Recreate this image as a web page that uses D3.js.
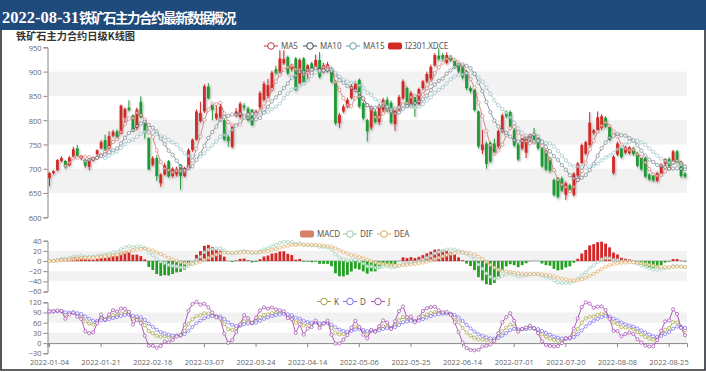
<!DOCTYPE html>
<html>
<head>
<meta charset="utf-8">
<script src="https://cdn.jsdelivr.net/npm/d3@7"></script>
<style>
  html, body { margin: 0; padding: 0; background: #fff; }
  svg { display: block; }
</style>
</head>
<body>
<svg id="chart" width="706" height="372" font-family="'Noto Sans', 'Noto Sans CJK SC', sans-serif"></svg>
<script>
// trading days, 2022-01-04 .. 2022-08-31
const dates = [
  "2022-01-04","2022-01-05","2022-01-06","2022-01-07","2022-01-10","2022-01-11","2022-01-12","2022-01-13","2022-01-14",
  "2022-01-17","2022-01-18","2022-01-19","2022-01-20","2022-01-21","2022-01-24","2022-01-25","2022-01-26","2022-01-27","2022-01-28",
  "2022-02-07","2022-02-08","2022-02-09","2022-02-10","2022-02-11","2022-02-14","2022-02-15","2022-02-16","2022-02-17","2022-02-18",
  "2022-02-21","2022-02-22","2022-02-23","2022-02-24","2022-02-25","2022-02-28","2022-03-01","2022-03-02","2022-03-03","2022-03-04",
  "2022-03-07","2022-03-08","2022-03-09","2022-03-10","2022-03-11","2022-03-14","2022-03-15","2022-03-16","2022-03-17","2022-03-18",
  "2022-03-21","2022-03-22","2022-03-23","2022-03-24","2022-03-25","2022-03-28","2022-03-29","2022-03-30","2022-03-31","2022-04-01",
  "2022-04-06","2022-04-07","2022-04-08","2022-04-11","2022-04-12","2022-04-13","2022-04-14","2022-04-15","2022-04-18","2022-04-19",
  "2022-04-20","2022-04-21","2022-04-22","2022-04-25","2022-04-26","2022-04-27","2022-04-28","2022-04-29","2022-05-05","2022-05-06",
  "2022-05-09","2022-05-10","2022-05-11","2022-05-12","2022-05-13","2022-05-16","2022-05-17","2022-05-18","2022-05-19","2022-05-20",
  "2022-05-23","2022-05-24","2022-05-25","2022-05-26","2022-05-27","2022-05-30","2022-05-31","2022-06-01","2022-06-02","2022-06-06",
  "2022-06-07","2022-06-08","2022-06-09","2022-06-10","2022-06-13","2022-06-14","2022-06-15","2022-06-16","2022-06-17","2022-06-20",
  "2022-06-21","2022-06-22","2022-06-23","2022-06-24","2022-06-27","2022-06-28","2022-06-29","2022-06-30","2022-07-01","2022-07-04",
  "2022-07-05","2022-07-06","2022-07-07","2022-07-08","2022-07-11","2022-07-12","2022-07-13","2022-07-14","2022-07-15","2022-07-18",
  "2022-07-19","2022-07-20","2022-07-21","2022-07-22","2022-07-25","2022-07-26","2022-07-27","2022-07-28","2022-07-29","2022-08-01",
  "2022-08-02","2022-08-03","2022-08-04","2022-08-05","2022-08-08","2022-08-09","2022-08-10","2022-08-11","2022-08-12","2022-08-15",
  "2022-08-16","2022-08-17","2022-08-18","2022-08-19","2022-08-22","2022-08-23","2022-08-24","2022-08-25","2022-08-26","2022-08-29",
  "2022-08-30","2022-08-31"
];

// daily OHLC
const open = [
  681,691,697,716,716,707,726,742,722,718, 704,718,730,742,759,742,768,777,773,805,
  826,810,784,838,793,763,708,722,670,688, 716,685,688,708,685,702,739,760,798,818,
  869,831,804,806,800,766,745,810,806,830, 824,822,812,826,842,850,865,905,900,917,
  930,905,927,876,927,900,917,910,924,900, 902,906,879,794,818,828,846,862,883,835,
  800,785,818,796,820,842,836,792,822,845, 866,830,848,833,866,880,886,913,933,934,
  918,930,922,915,912,900,866,862,818,738, 752,753,752,746,777,815,817,780,750,742,
  733,759,769,762,742,737,721,677,680,680, 646,666,646,686,712,731,749,774,780,784,
  805,786,691,729,742,733,732,742,732,722, 722,688,686,675,691,710,720,714,736,714,
  690
];
const close = [
  691,695,718,722,704,723,740,727,726,706, 719,722,738,755,740,767,776,766,830,823,
  821,780,822,806,777,699,722,685,688,707, 684,700,700,685,701,739,760,818,815,870,
  845,821,814,828,760,757,787,818,834,826, 800,790,818,856,875,872,898,897,927,926,
  896,912,862,924,879,913,907,924,889,913, 915,879,794,811,828,842,870,876,828,804,
  777,826,796,828,842,820,795,822,848,880, 830,856,833,864,880,895,910,934,926,927,
  934,923,910,900,888,866,860,821,746,750, 710,715,734,778,810,808,788,748,719,762,
  765,769,756,742,705,698,696,646,642,655, 670,657,690,711,749,755,795,779,806,808,
  787,760,725,752,724,745,744,730,706,699, 684,678,676,691,708,720,706,736,712,685,
  684
];
const high = [
  693,697,720,726,718,726,745,749,728,720, 721,725,740,759,770,777,780,781,832,826,
  841,812,826,849,798,765,726,728,691,712, 718,703,704,710,704,742,762,822,838,874,
  876,834,830,834,803,770,790,825,838,835, 828,822,822,860,880,885,902,912,944,944,
  933,916,930,928,930,915,920,935,940,918, 920,910,882,815,832,846,875,880,886,838,
  803,830,822,834,846,848,840,826,852,884, 870,860,851,867,883,900,914,938,948,938,
  940,934,926,918,915,904,870,864,820,780, 756,756,762,781,814,820,820,783,753,765,
  768,772,784,765,745,740,724,680,683,684, 674,669,693,714,752,758,817,782,818,812,
  808,789,728,756,745,748,747,745,735,725, 725,691,689,694,711,722,724,739,739,717,
  693
];
const low = [
  664,688,695,713,700,705,722,724,718,702, 697,715,727,740,737,740,765,764,771,795,
  818,776,780,804,762,697,705,675,663,686, 682,682,684,657,683,700,735,758,795,815,
  843,800,800,798,757,745,742,806,803,820, 797,788,808,822,838,846,860,894,896,914,
  893,900,860,872,876,883,904,908,886,897, 898,876,790,784,815,825,843,858,825,800,
  756,780,793,790,816,816,792,778,818,842, 827,827,807,830,862,876,882,910,922,922,
  915,920,906,896,884,862,856,818,742,730, 700,712,730,742,774,804,785,745,716,738,
  722,755,753,739,702,695,692,643,638,652, 636,654,643,683,710,728,746,770,777,780,
  784,757,688,726,721,730,729,727,703,696, 681,675,673,672,688,702,703,711,709,682,
  681
];

// axis ticks
const priceTicks = [600, 650, 700, 750, 800, 850, 900, 950];
const macdTicks = [-60, -40, -20, 0, 20, 40];
const kdjTicks = [-30, 0, 30, 60, 90, 120];
const labelEvery = 13;

// indicators derived from the OHLC series
function calcMA(n) {
  return close.map((c, i) => i < n - 1 ? null : d3.mean(close.slice(i - n + 1, i + 1)));
}
function calcMACD() {
  let e12 = close[0], e26 = close[0], dea = 0;
  const dif = [], deaArr = [], bar = [];
  close.forEach(c => {
    e12 = e12 * 11 / 13 + c * 2 / 13;
    e26 = e26 * 25 / 27 + c * 2 / 27;
    const d = e12 - e26;
    dea = dea * 8 / 10 + d * 2 / 10;
    dif.push(d); deaArr.push(dea); bar.push(2 * (d - dea));
  });
  return { dif, dea: deaArr, bar };
}
function calcKDJ() {
  const K = [], D = [], J = [];
  let k = null, d = null;
  close.forEach((c, i) => {
    const s = Math.max(0, i - 8);
    const lo = d3.min(low.slice(s, i + 1)), hi = d3.max(high.slice(s, i + 1));
    const rsv = hi === lo ? 50 : (c - lo) / (hi - lo) * 100;
    if (k === null) { k = rsv; d = rsv; }
    else { k = k * 2 / 3 + rsv / 3; d = d * 2 / 3 + k / 3; }
    K.push(k); D.push(d); J.push(3 * k - 2 * d);
  });
  return { K, D, J };
}

const ma5 = calcMA(5), ma10 = calcMA(10), ma15 = calcMA(15);
const macd = calcMACD();
const kdj = calcKDJ();

const colors = {
  up: "#d12a26", down: "#1f9a35",
  ma5: "#c23531", ma10: "#2f4554", ma15: "#61a0a8",
  macd: "#d48265", dif: "#91c7ae", dea: "#d9a45a",
  k: "#a3a23c", d: "#7b6cf0", j: "#a24bb0",
  band: "#f2f2f2", axis: "#888", label: "#666"
};

const svg = d3.select("#chart");
const defs = svg.append("defs");
const shadow = defs.append("filter").attr("id", "shadow")
  .attr("x", "-50%").attr("y", "-50%").attr("width", "200%").attr("height", "200%");
shadow.append("feDropShadow").attr("dx", 1).attr("dy", 1.5)
  .attr("stdDeviation", 1).attr("flood-color", "#000").attr("flood-opacity", 0.3);

// title bar
svg.append("rect").attr("x", 0).attr("y", 0).attr("width", 706).attr("height", 30).attr("fill", "#1f4a7c");
const title = svg.append("text").attr("x", 2).attr("y", 22.5).attr("fill", "#fff").style("font-weight", "bold");
title.append("tspan").style("font-family", "'Liberation Serif', serif").style("font-size", "16.5px").text("2022-08-31");
title.append("tspan").style("font-family", "'Noto Sans CJK SC', sans-serif").style("font-size", "13.5px")
  .style("letter-spacing", "-1.5px").text("铁矿石主力合约最新数据概况");

// frame
svg.append("path").attr("d", "M1,30V370H705V30").attr("fill", "none").attr("stroke", "#2a2f36").attr("stroke-width", 1.6);

svg.append("text").attr("x", 16).attr("y", 39.5).style("font-size", "10.2px").style("font-weight", "bold")
  .attr("fill", "#333").style("font-family", "'Noto Sans CJK SC', sans-serif").text("铁矿石主力合约日级K线图");

const x = d3.scaleBand().domain(d3.range(dates.length)).range([47.5, 687]);
const bw = x.bandwidth();
const cx = i => x(i) + bw / 2;

const yP = d3.scaleLinear().domain([600, 950]).range([217.3, 47.3]);
const yM = d3.scaleLinear().domain([-60, 40]).range([291.5, 240.7]);
const yK = d3.scaleLinear().domain([-30, 120]).range([353.3, 302.3]);

function bands(scale, ticks) {
  const g = svg.append("g");
  for (let k = 0; k < ticks.length - 1; k++) {
    if (k % 2 === 1) {
      g.append("rect").attr("x", 47.5).attr("width", 687 - 47.5)
        .attr("y", scale(ticks[k + 1])).attr("height", scale(ticks[k]) - scale(ticks[k + 1]))
        .attr("fill", colors.band);
    }
  }
}
bands(yP, priceTicks);
bands(yM, macdTicks);
bands(yK, kdjTicks);

function yAxis(scale, ticks) {
  const g = svg.append("g").attr("transform", "translate(47.5,0)")
    .call(d3.axisLeft(scale).tickValues(ticks).tickSize(4).tickPadding(2));
  g.attr("font-family", "'Open Sans', 'Noto Sans', sans-serif").attr("font-size", 7.5);
  g.select(".domain").attr("stroke", colors.axis);
  g.selectAll(".tick line").attr("stroke", colors.axis);
  g.selectAll(".tick text").attr("fill", colors.label);
  return g;
}
yAxis(yP, priceTicks).selectAll(".tick text").attr("dy", "0.38em");
yAxis(yM, macdTicks);
yAxis(yK, kdjTicks);

// zero lines / x axis
svg.append("line").attr("x1", 47.5).attr("x2", 687).attr("y1", yM(0)).attr("y2", yM(0)).attr("stroke", "#aaa");
const xAx = svg.append("g").attr("transform", `translate(0,${yK(0)})`)
  .call(d3.axisBottom(x).tickValues(d3.range(0, dates.length, labelEvery)).tickSize(4).tickFormat(i => dates[i]));
xAx.attr("font-family", "'Open Sans', 'Noto Sans', sans-serif").attr("font-size", 7.5);
xAx.select(".domain").attr("stroke", colors.axis);
xAx.selectAll(".tick line").attr("stroke", colors.axis);
xAx.selectAll(".tick text").attr("fill", colors.label)
  .attr("y", 0).attr("dy", null).attr("transform", `translate(0,${365 - yK(0)})`);

// line series with hollow circle symbols
function lineSeries(values, scale, color, opacity, r) {
  const pts = values.map((v, i) => [i, v]).filter(p => p[1] !== null);
  const g = svg.append("g").attr("opacity", opacity);
  g.append("path").datum(pts)
    .attr("d", d3.line().x(p => cx(p[0])).y(p => scale(p[1])))
    .attr("fill", "none").attr("stroke", color).attr("stroke-width", 1);
  g.selectAll("circle").data(pts).join("circle")
    .attr("cx", p => cx(p[0])).attr("cy", p => scale(p[1])).attr("r", r)
    .attr("fill", "#fff").attr("stroke", color).attr("stroke-width", 0.8);
}

// candles
const bodyW = bw * 0.7;
const candles = svg.append("g").attr("filter", "url(#shadow)");
const idx = d3.range(dates.length);
candles.selectAll("line").data(idx).join("line")
  .attr("x1", cx).attr("x2", cx)
  .attr("y1", i => yP(high[i])).attr("y2", i => yP(low[i]))
  .attr("stroke", i => close[i] >= open[i] ? colors.up : colors.down).attr("stroke-width", 1);
candles.selectAll("rect").data(idx).join("rect")
  .attr("x", i => cx(i) - bodyW / 2).attr("width", bodyW)
  .attr("y", i => yP(Math.max(open[i], close[i])))
  .attr("height", i => Math.max(1, Math.abs(yP(open[i]) - yP(close[i]))))
  .attr("fill", i => close[i] >= open[i] ? colors.up : colors.down);

lineSeries(ma5, yP, colors.ma5, 0.55, 1.7);
lineSeries(ma10, yP, colors.ma10, 0.55, 1.7);
lineSeries(ma15, yP, colors.ma15, 0.55, 1.7);

// MACD
svg.append("g").selectAll("rect").data(idx).join("rect")
  .attr("x", i => cx(i) - bodyW / 2).attr("width", bodyW)
  .attr("y", i => yM(Math.max(0, macd.bar[i])))
  .attr("height", i => Math.abs(yM(macd.bar[i]) - yM(0)))
  .attr("fill", i => macd.bar[i] >= 0 ? "#d42424" : "#22a022");
lineSeries(macd.dif, yM, colors.dif, 0.8, 1.6);
lineSeries(macd.dea, yM, colors.dea, 0.8, 1.6);

// KDJ
lineSeries(kdj.K, yK, colors.k, 0.9, 1.6);
lineSeries(kdj.D, yK, colors.d, 0.9, 1.6);
lineSeries(kdj.J, yK, colors.j, 0.9, 1.6);

// legends
function legendLine(xp, yp, color, label) {
  const g = svg.append("g");
  g.append("line").attr("x1", xp).attr("x2", xp + 14).attr("y1", yp).attr("y2", yp).attr("stroke", color);
  g.append("circle").attr("cx", xp + 7).attr("cy", yp).attr("r", 3.3).attr("fill", "#fff").attr("stroke", color);
  g.append("text").attr("x", xp + 17).attr("y", yp + 3).attr("font-size", 8).attr("fill", "#555").text(label);
}
function legendRect(xp, yp, color, label) {
  svg.append("rect").attr("x", xp).attr("y", yp - 3.5).attr("width", 14).attr("height", 7).attr("rx", 2).attr("fill", color);
  svg.append("text").attr("x", xp + 17).attr("y", yp + 3).attr("font-size", 8).attr("fill", "#555").text(label);
}
legendLine(264, 46, colors.ma5, "MA5");
legendLine(303, 46, colors.ma10, "MA10");
legendLine(346, 46, colors.ma15, "MA15");
legendRect(388, 46, colors.up, "I2301.XDCE");

legendRect(300, 234, colors.macd, "MACD");
legendLine(343, 234, colors.dif, "DIF");
legendLine(377, 234, colors.dea, "DEA");

legendLine(317, 301.5, colors.k, "K");
legendLine(343, 301.5, colors.d, "D");
legendLine(371, 301.5, colors.j, "J");
</script>
</body>
</html>
